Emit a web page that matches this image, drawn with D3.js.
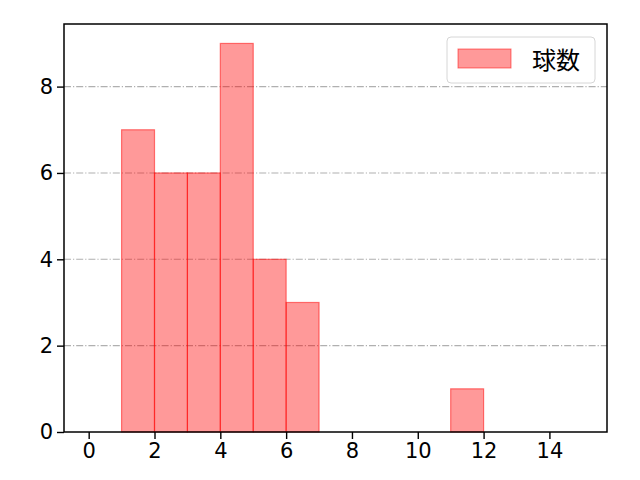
<!DOCTYPE html>
<html>
<head>
<meta charset="utf-8">
<script src="https://cdn.jsdelivr.net/npm/d3@7"></script>
<style>
  body { margin: 0; background: #fff; }
  text { font-family: "Noto Sans CJK JP", "DejaVu Sans", sans-serif; }
</style>
</head>
<body>
<div id="graph"></div>
<script>
// histogram bins and counts
const binStarts = [1, 2, 3, 4, 5, 6, 11];
const counts = [7, 6, 6, 9, 4, 3, 1];
const binWidth = 1;
const xTicks = [0, 2, 4, 6, 8, 10, 12, 14];
const yTicks = [0, 2, 4, 6, 8];
const legendLabel = "球数";

const W = 640, H = 480;
const margin = {top: 24, right: 33, bottom: 48, left: 64};
const width = W - margin.left - margin.right,
  height = H - margin.top - margin.bottom;

const svg = d3.select("#graph")
  .append("svg")
  .attr("width", W)
  .attr("height", H);

const g = svg.append("g")
  .attr("transform", `translate(${margin.left},${margin.top})`);

const x = d3.scaleLinear()
  .domain([-0.75, 15.75])
  .range([0, width]);

const y = d3.scaleLinear()
  .domain([0, 9.45])
  .range([height, 0]);

// grid lines
g.append("g")
  .selectAll("line")
  .data(yTicks.filter(d => d > 0))
  .join("line")
    .attr("x1", 0)
    .attr("x2", width)
    .attr("y1", d => y(d))
    .attr("y2", d => y(d))
    .attr("stroke", "#b0b0b0")
    .attr("stroke-width", 1.1)
    .attr("stroke-dasharray", "7,2,1.2,2");

// bars
g.append("g")
  .selectAll("rect")
  .data(binStarts.map((s, i) => ({s, c: counts[i]})))
  .join("rect")
    .attr("x", d => x(d.s))
    .attr("y", d => y(d.c))
    .attr("width", d => x(d.s + binWidth) - x(d.s))
    .attr("height", d => y(0) - y(d.c))
    .attr("fill", "rgba(255,0,0,0.4)")
    .attr("stroke", "rgba(255,0,0,0.5)")
    .attr("stroke-width", 1.2);

// axes
const xAxis = g.append("g")
  .attr("transform", `translate(0,${height})`)
  .call(d3.axisBottom(x).tickValues(xTicks).tickSize(7).tickPadding(4));
const yAxis = g.append("g")
  .call(d3.axisLeft(y).tickValues(yTicks).tickSize(7).tickPadding(4));

[xAxis, yAxis].forEach(a => {
  a.select(".domain").remove();
  a.selectAll(".tick line").attr("stroke", "#000").attr("stroke-width", 1.4);
  a.selectAll(".tick text").attr("fill", "#000")
    .style("font-family", "'DejaVu Sans', sans-serif")
    .style("font-size", "21px");
});

// frame
g.append("rect")
  .attr("width", width)
  .attr("height", height)
  .attr("fill", "none")
  .attr("stroke", "#000")
  .attr("stroke-width", 1.5);

// legend
const lg = g.append("g")
  .attr("transform", `translate(${width - 160},${13})`);
lg.append("rect")
  .attr("width", 148)
  .attr("height", 46)
  .attr("rx", 4)
  .attr("fill", "#fff")
  .attr("fill-opacity", 0.8)
  .attr("stroke", "#d6d6d6");
lg.append("rect")
  .attr("x", 11)
  .attr("y", 12)
  .attr("width", 53)
  .attr("height", 19)
  .attr("fill", "rgba(255,0,0,0.4)")
  .attr("stroke", "rgba(255,0,0,0.5)");
lg.append("text")
  .attr("x", 85)
  .attr("y", 32)
  .style("font-size", "24px")
  .attr("fill", "#000")
  .text(legendLabel);
</script>
</body>
</html>
